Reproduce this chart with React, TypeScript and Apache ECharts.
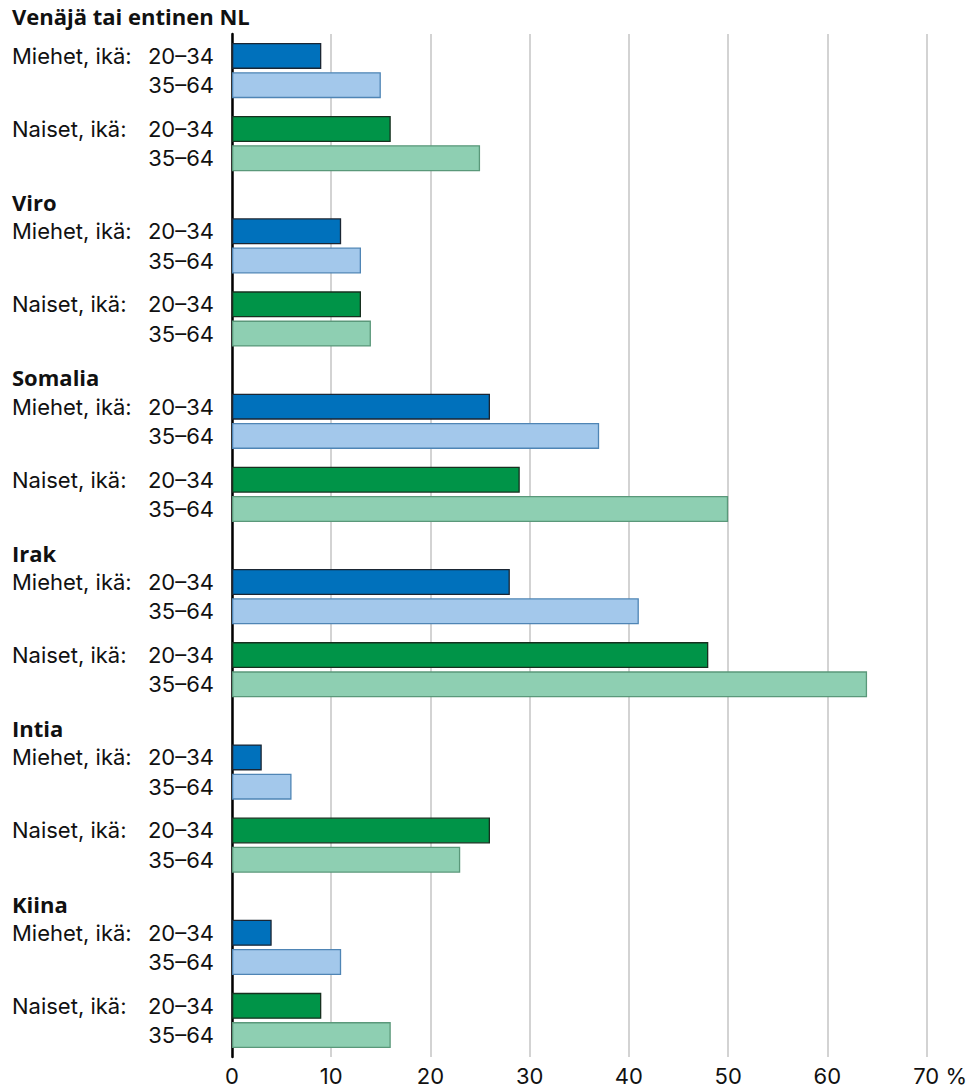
import React, { useEffect, useRef } from "react";
import * as echarts from "echarts";

const groups = ["Venäjä tai entinen NL", "Viro", "Somalia", "Irak", "Intia", "Kiina"];
const men2034 = [9, 11, 26, 28, 3, 4];
const men3564 = [15, 13, 37, 41, 6, 11];
const women2034 = [16, 13, 29, 48, 26, 9];
const women3564 = [25, 14, 50, 64, 23, 16];
const sexLabels = ["Miehet, ikä:", "Naiset, ikä:"];
const ageLabels = ["20–34", "35–64"];
const xTicks = [0, 10, 20, 30, 40, 50, 60, 70];

const SLOTS_PER_GROUP = 12;
const TOTAL_SLOTS = 70;
const FIRST_BAR = 1;
const barOffsets = [0, 2, 5, 7];

const FONT = "Inter, 'Noto Sans', sans-serif";
const BOLD_FONT = "'Open Sans', Inter, sans-serif";

export default function App() {
  const ref = useRef<HTMLDivElement>(null);
  useEffect(() => {
    const chart = echarts.init(ref.current!, null, { renderer: "svg" });

    const cats: string[] = [];
    const labelMap: Record<string, string> = {};
    for (let i = 0; i < TOTAL_SLOTS; i++) {
      cats.push("c" + i);
      labelMap["c" + i] = "";
    }
    const seriesVals = [men2034, men3564, women2034, women3564];
    const seriesData = seriesVals.map(() => new Array(TOTAL_SLOTS).fill(null));
    groups.forEach((g, gi) => {
      const base = FIRST_BAR + gi * SLOTS_PER_GROUP;
      if (gi > 0) labelMap["c" + (base - 2)] = "{t|" + g + "}";
      barOffsets.forEach((off, si) => {
        const idx = base + off;
        seriesData[si][idx] = seriesVals[si][gi];
        const sex = si % 2 === 0 ? sexLabels[si < 2 ? 0 : 1] : "";
        labelMap["c" + idx] = "{s|" + sex + "}{a|" + ageLabels[si % 2] + "}";
      });
    });

    const colors = ["#0071bc", "#a3c8eb", "#009448", "#8ecfb2"];
    const borders = ["#1b2633", "#4f85b5", "#17301f", "#5a987a"];
    const names = ["Miehet 20–34", "Miehet 35–64", "Naiset 20–34", "Naiset 35–64"];

    chart.setOption({
      animation: false,
      title: {
        text: groups[0],
        left: 12,
        top: 5,
        padding: 0,
        textStyle: { fontFamily: BOLD_FONT, fontSize: 22, fontWeight: "bold", color: "#111" },
      },
      grid: { left: 232, right: 43, top: 34, height: 1023, containLabel: false },
      xAxis: {
        type: "value",
        min: 0,
        max: 70,
        interval: 10,
        axisLine: { show: false },
        axisTick: { show: false },
        splitLine: { show: true, lineStyle: { color: "#c4c4c4", width: 1.5 } },
        axisLabel: {
          margin: 8,
          fontFamily: FONT,
          fontSize: 22,
          color: "#111",
          formatter: (v: number) => (v === xTicks[xTicks.length - 1] ? "{p|}" + v + " %" : String(v)),
          rich: { p: { width: 27 } },
        },
      },
      yAxis: {
        type: "category",
        data: cats,
        inverse: true,
        axisLine: { show: true, lineStyle: { color: "#000", width: 2.5 } },
        axisTick: { show: false },
        splitLine: { show: false },
        axisLabel: {
          interval: 0,
          margin: 220,
          align: "left",
          fontFamily: FONT,
          fontSize: 22,
          color: "#111",
          formatter: (v: string) => labelMap[v],
          rich: {
            t: { fontFamily: BOLD_FONT, fontSize: 22, fontWeight: "bold", color: "#111" },
            s: { fontFamily: FONT, fontSize: 22, color: "#111", width: 136 },
            a: { fontFamily: FONT, fontSize: 22, color: "#111", width: 66, align: "right" },
          },
        },
      },
      series: seriesData.map((d, i) => ({
        type: "bar",
        name: names[i],
        data: d,
        barWidth: 26,
        barGap: "-100%",
        itemStyle: { color: colors[i], borderColor: borders[i], borderWidth: 1.3 },
      })),
    });
    return () => chart.dispose();
  }, []);
  return (
    <div
      ref={ref}
      style={{ position: "absolute", left: 0, top: 0, width: 970, height: 1088 }}
    />
  );
}
